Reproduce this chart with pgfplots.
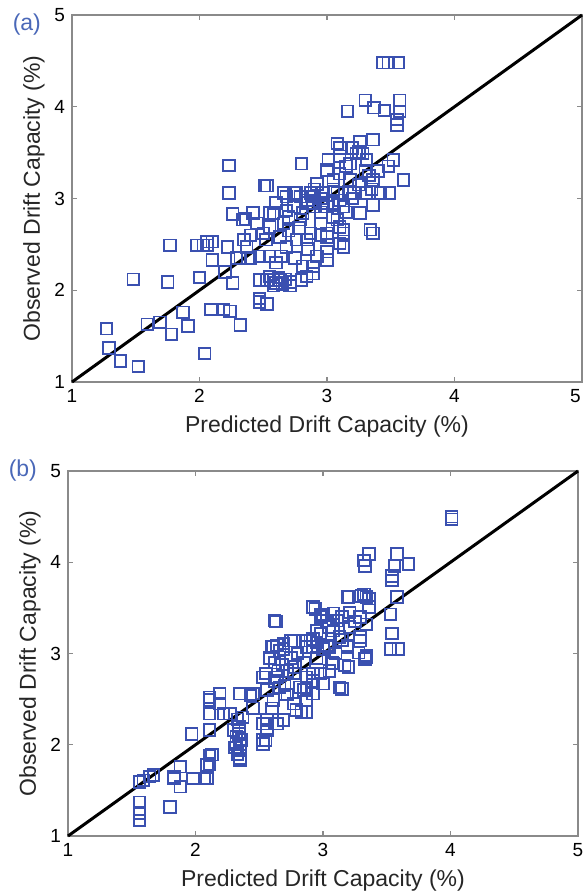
\documentclass[border=0pt]{standalone}
\usepackage{pgfplots}
\pgfplotsset{compat=1.18}
\usepackage{fontspec}
\setmainfont{Liberation Sans}
\definecolor{mkblue}{HTML}{3A50B0}
\definecolor{lblblue}{HTML}{4A68B8}
\definecolor{framegrey}{HTML}{8A8A8A}

\pgfplotstableread{
x y
1.27 1.58
1.29 1.37
1.38 1.23
1.52 1.17
1.48 2.12
1.75 2.09
1.77 2.49
1.59 1.63
1.69 1.65
1.78 1.52
1.87 1.76
1.91 1.61
2.04 1.31
2.00 2.14
1.98 2.49
2.03 2.49
2.06 2.49
2.10 2.53
2.10 2.33
2.22 2.47
2.23 3.06
2.23 3.36
2.53 3.14
2.26 2.83
2.36 2.78
2.42 2.84
2.55 2.84
2.35 2.55
2.32 2.35
2.29 2.35
2.26 2.08
2.09 1.79
2.19 1.79
2.24 1.77
2.32 1.62
2.47 1.87
2.53 1.85
2.47 1.91
2.47 2.11
2.53 2.11
2.58 2.11
2.63 2.11
2.71 2.09
2.58 2.05
2.71 2.05
2.65 2.07
2.47 2.37
2.55 2.37
2.64 2.37
2.37 2.47
2.55 2.15
2.84 2.15
2.89 2.18
2.80 2.11
2.81 2.26
2.92 2.37
3.00 2.42
3.13 2.47
3.13 2.62
3.26 2.84
3.34 2.66
3.36 2.62
3.00 2.33
2.89 2.26
2.66 3.06
2.76 3.06
2.87 3.06
2.97 3.06
3.08 3.06
3.18 3.06
2.68 3.02
2.79 3.02
2.89 3.02
2.68 2.87
2.81 2.84
2.89 2.91
2.95 2.73
3.05 2.80
3.13 2.91
2.55 2.69
2.63 2.58
2.76 2.55
2.87 2.62
3.00 2.62
3.10 2.69
2.68 2.47
2.45 2.73
2.50 2.62
3.44 4.48
3.48 4.48
3.56 4.48
3.16 3.95
3.30 4.07
3.37 3.99
3.45 3.96
3.57 4.07
3.57 3.95
3.55 3.86
3.55 3.80
3.08 3.60
3.26 3.62
3.36 3.64
3.25 3.51
3.28 3.49
2.80 3.38
3.01 3.42
3.10 3.46
3.18 3.38
3.52 3.42
3.48 3.35
3.60 3.20
3.49 3.06
3.36 2.93
2.51 3.14
2.92 3.16
3.00 3.31
3.10 3.27
3.18 3.20
3.36 3.20
3.42 3.06
3.31 3.06
3.21 3.06
3.10 2.98
3.00 2.91
2.74 2.91
2.58 2.84
2.34 2.77
2.66 2.73
2.79 2.77
3.08 2.77
3.13 2.66
3.00 2.58
2.84 2.55
3.10 2.51
3.23 3.49
3.31 3.42
3.10 3.55
3.15 3.35
3.05 3.20
2.95 3.00
2.85 2.95
3.25 3.15
3.30 3.30
3.20 3.00
3.40 3.30
2.70 2.65
2.60 2.95
2.95 2.85
3.05 2.95
2.40 2.60
2.20 2.20
2.60 2.30
2.75 2.35
2.85 2.45
2.70 2.80
3.15 2.85
3.35 3.10
2.90 3.10
2.62 2.14
2.67 2.12
2.60 2.08
2.06 2.53
2.74 3.06
2.84 2.98
2.97 2.95
3.20 3.55
3.33 3.25
3.05 3.10
2.95 2.60
2.78 2.68
2.52 2.55
2.40 2.35
}\dataA

\pgfplotstableread{
x y
4.01 4.50
4.01 4.47
3.36 4.09
3.32 4.02
3.33 3.96
3.58 4.09
3.67 3.98
3.56 3.96
3.54 3.85
3.54 3.80
3.58 3.62
3.53 3.43
3.54 3.22
3.53 3.05
3.59 3.05
3.30 3.63
3.34 3.62
3.36 3.51
3.20 3.62
2.92 3.51
3.00 3.42
3.08 3.36
3.15 3.40
3.29 3.40
3.34 3.32
2.98 3.22
3.08 3.25
3.21 3.29
3.29 3.18
2.87 3.14
2.95 3.12
3.03 3.09
3.19 3.09
3.28 3.01
3.34 2.98
3.33 2.94
3.20 2.85
3.15 2.61
3.07 2.90
2.92 2.70
2.87 2.63
2.87 2.49
2.83 2.36
2.62 3.36
2.98 3.43
3.32 3.65
3.36 3.60
3.03 3.36
3.11 3.36
3.21 3.45
2.61 3.07
2.66 3.03
2.77 3.14
2.90 3.14
2.92 3.07
3.05 3.07
3.19 3.07
3.29 3.14
3.34 2.96
3.13 2.63
2.55 2.78
2.65 2.81
2.77 2.78
2.87 2.74
2.98 2.78
2.56 2.60
2.66 2.63
2.82 2.63
2.92 2.56
2.61 2.49
2.77 2.45
2.87 2.49
2.11 2.52
2.19 2.56
2.35 2.56
2.45 2.56
2.11 2.34
2.22 2.34
2.27 2.34
2.37 2.30
1.97 2.12
2.11 2.16
2.30 2.16
2.32 2.09
2.32 2.01
2.35 1.94
2.35 1.83
2.13 1.89
2.11 1.79
1.59 1.61
1.67 1.67
1.83 1.63
1.88 1.54
1.98 1.63
2.07 1.63
1.56 1.37
1.80 1.32
2.56 2.27
2.56 2.16
2.55 2.05
2.64 2.23
2.69 2.27
1.56 1.59
1.64 1.65
1.56 1.25
1.56 1.17
1.83 1.65
1.88 1.76
2.09 1.63
2.09 1.78
2.11 1.88
2.11 2.49
2.19 2.45
2.43 2.54
2.34 2.12
2.35 2.01
2.35 1.85
2.53 2.05
2.53 2.01
2.53 2.23
2.60 3.07
2.69 3.11
2.53 2.74
2.64 2.74
2.72 2.81
2.85 2.60
2.92 2.78
3.00 2.67
3.05 2.81
3.08 2.89
3.17 2.87
2.79 2.38
2.87 2.36
2.63 3.35
2.75 3.14
2.64 3.09
2.69 3.05
2.94 3.49
2.98 3.40
3.08 3.44
3.19 3.62
3.05 3.29
3.13 3.18
2.92 3.16
2.87 3.07
2.33 2.28
2.34 2.20
2.36 2.05
2.31 1.97
2.70 2.55
2.75 2.95
2.85 2.90
2.95 2.95
2.80 3.00
2.62 2.90
2.70 2.65
2.60 2.40
2.45 2.40
3.10 3.00
3.25 3.35
3.15 3.15
2.58 2.95
2.68 2.88
2.78 2.85
2.72 2.55
2.62 2.70
2.95 3.25
3.00 3.05
2.33 1.90
}\dataB

\pgfplotsset{
  driftax/.style={
    scale only axis,width=255pt,
    xmin=1,xmax=5,ymin=1,ymax=5,
    xtick={1,2,3,4,5},ytick={1,2,3,4,5},
    axis line style={framegrey,line width=0.8pt},
    tick style={framegrey,line width=0.6pt},
    major tick length=2.5pt,
    tick pos=both,tick align=inside,
    tick label style={font=\fontsize{9.5}{10}\selectfont,text=black},
    /pgf/number format/assume math mode=true,
    label style={font=\fontsize{11.5}{13}\selectfont,text=black!85},
    xlabel={Predicted Drift Capacity (\%)},
    ylabel={Observed Drift Capacity (\%)},
    xlabel style={yshift=0pt},
    ylabel style={yshift=-2pt},
    clip=false,
  },
  pts/.style={only marks,mark=square,mark size=2.9pt,
    mark options={draw=mkblue,line width=0.9pt,fill=none}},
}

\begin{document}
\begin{tikzpicture}
\path[use as bounding box] (0,0) rectangle (292pt,-446.5pt);

% panel (a)
\begin{axis}[driftax,height=183.5pt,anchor=south west,at={(36pt,-191pt)},
  xticklabels={1,2,3,4,\makebox[0pt][r]{5\hspace{0.6pt}}}]
\addplot[pts] table[x=x,y=y] {\dataA};
\addplot[black,line width=1.5pt] coordinates {(1,1) (5,5)};
\node[lblblue,font=\fontsize{11.5}{13}\selectfont,anchor=west] at (axis description cs:-0.13,0.975) {(a)};
\end{axis}

% panel (b)
\begin{axis}[driftax,height=182.5pt,anchor=south west,at={(34pt,-418pt)}]
\addplot[pts] table[x=x,y=y] {\dataB};
\addplot[black,line width=1.5pt] coordinates {(1,1) (5,5)};
\node[lblblue,font=\fontsize{11.5}{13}\selectfont,anchor=west] at (axis description cs:-0.13,1.0) {(b)};
\end{axis}
\end{tikzpicture}
\end{document}
